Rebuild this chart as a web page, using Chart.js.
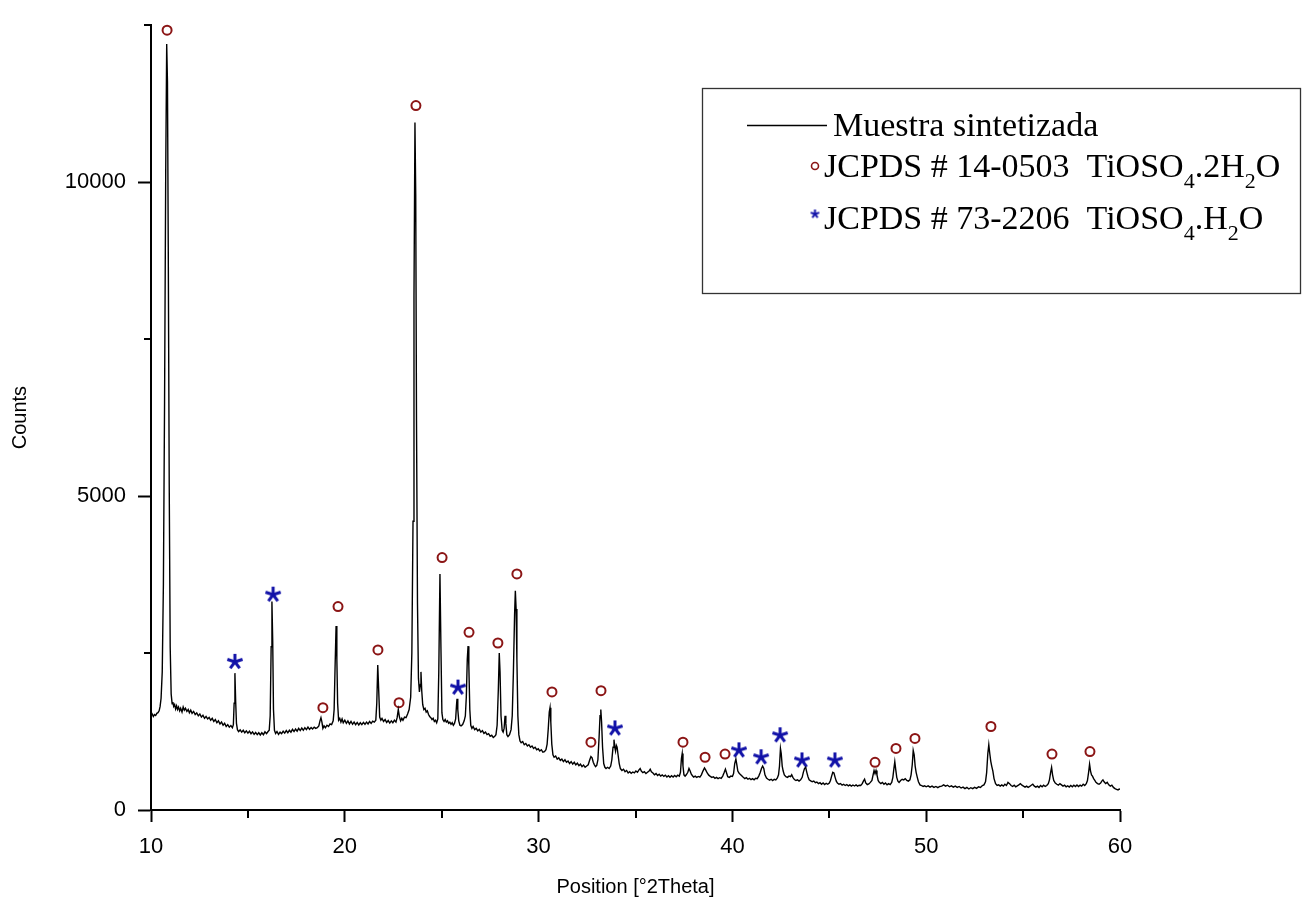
<!DOCTYPE html>
<html>
<head>
<meta charset="utf-8">
<script src="https://cdn.jsdelivr.net/npm/chart.js@4.4.1/dist/chart.umd.min.js"></script>
<style>
  body { margin: 0; background: #fff; }
  #wrap { width: 1302px; height: 897px; }
</style>
</head>
<body>
<div id="wrap"><canvas id="xrd"></canvas></div>
<script>
// XRD pattern - muestra sintetizada

const xTicks = [10, 20, 30, 40, 50, 60];
const xMinorTicks = [15, 25, 35, 45, 55];
const yTicks = [0, 5000, 10000];
const yMinorTicks = [2500, 7500, 12500];

// [2Theta, counts]
const pattern = [
  [10.00,1500],[10.06,1530],[10.12,1490],[10.18,1520],[10.24,1505],[10.30,1540],[10.36,1550],[10.42,1580],[10.47,1650],[10.52,1780],
  [10.58,2200],[10.64,3600],[10.70,6500],[10.76,10200],[10.81,12200],[10.85,11600],[10.89,9000],[10.94,5200],[10.99,2600],[11.04,1850],
  [11.09,1690],[11.13,1720],[11.17,1650],[11.22,1680],[11.27,1610],[11.32,1660],[11.37,1600],[11.42,1640],[11.48,1580],[11.53,1620],
  [11.60,1560],[11.66,1640],[11.72,1590],[11.78,1620],[11.85,1570],[11.92,1600],[11.98,1550],[12.05,1590],[12.12,1540],[12.20,1570],
  [12.28,1520],[12.36,1545],[12.44,1500],[12.52,1530],[12.60,1480],[12.68,1510],[12.76,1460],[12.84,1490],[12.92,1450],[13.00,1475],
  [13.08,1430],[13.16,1460],[13.24,1410],[13.32,1440],[13.40,1390],[13.48,1420],[13.56,1370],[13.64,1400],[13.72,1350],[13.80,1380],
  [13.88,1330],[13.96,1360],[14.04,1320],[14.12,1345],[14.20,1310],[14.25,1360],[14.29,1700],[14.33,2180],[14.37,1720],[14.41,1380],
  [14.46,1280],[14.52,1250],[14.60,1275],[14.68,1240],[14.76,1270],[14.84,1230],[14.92,1260],[15.00,1225],[15.08,1255],[15.16,1215],
  [15.24,1245],[15.32,1205],[15.40,1235],[15.48,1200],[15.56,1230],[15.64,1195],[15.72,1230],[15.80,1200],[15.88,1245],[15.96,1215],
  [16.04,1250],[16.10,1270],[16.15,1500],[16.20,2600],[16.24,3320],[16.28,2700],[16.32,1600],[16.37,1270],[16.43,1220],[16.50,1250],
  [16.58,1205],[16.66,1240],[16.74,1215],[16.82,1255],[16.90,1225],[16.98,1265],[17.06,1230],[17.14,1270],[17.22,1240],[17.30,1285],
  [17.38,1250],[17.46,1290],[17.54,1255],[17.62,1300],[17.70,1265],[17.78,1305],[17.86,1270],[17.94,1310],[18.02,1280],[18.10,1320],
  [18.18,1285],[18.26,1315],[18.34,1290],[18.42,1320],[18.50,1300],[18.58,1310],[18.66,1340],[18.72,1420],[18.77,1470],[18.82,1400],
  [18.87,1300],[18.93,1340],[19.00,1310],[19.08,1350],[19.16,1330],[19.24,1370],[19.32,1360],[19.40,1420],[19.45,1600],[19.50,2300],
  [19.55,2930],[19.59,2400],[19.63,1700],[19.68,1430],[19.74,1460],[19.80,1400],[19.86,1450],[19.92,1390],[20.00,1430],[20.08,1380],
  [20.16,1420],[20.24,1370],[20.32,1410],[20.40,1365],[20.48,1400],[20.56,1360],[20.64,1395],[20.72,1355],[20.80,1390],[20.88,1360],
  [20.96,1395],[21.04,1365],[21.12,1400],[21.20,1370],[21.28,1410],[21.36,1380],[21.44,1415],[21.52,1400],[21.60,1430],[21.65,1700],
  [21.70,2310],[21.75,1900],[21.80,1480],[21.86,1430],[21.92,1460],[22.00,1410],[22.08,1440],[22.16,1395],[22.24,1425],[22.32,1385],
  [22.40,1420],[22.48,1390],[22.56,1430],[22.64,1400],[22.70,1470],[22.76,1600],[22.82,1480],[22.88,1420],[22.94,1460],[23.00,1430],
  [23.08,1480],[23.16,1470],[23.24,1530],[23.32,1600],[23.40,1800],[23.46,2500],[23.52,4600],[23.57,8200],[23.62,10950],[23.66,9800],
  [23.70,6200],[23.75,3300],[23.80,2100],[23.85,1880],[23.90,2000],[23.93,2200],[23.97,1900],[24.02,1680],[24.08,1600],[24.14,1620],
  [24.20,1560],[24.26,1580],[24.32,1520],[24.38,1490],[24.44,1470],[24.50,1440],[24.56,1460],[24.62,1410],[24.68,1430],[24.74,1390],
  [24.80,1450],[24.85,2200],[24.91,3760],[24.96,2600],[25.01,1550],[25.06,1440],[25.12,1410],[25.18,1440],[25.24,1400],[25.30,1420],
  [25.36,1380],[25.42,1400],[25.48,1365],[25.54,1390],[25.60,1350],[25.66,1380],[25.72,1450],[25.76,1650],[25.79,1770],[25.83,1600],
  [25.88,1420],[25.94,1350],[26.00,1340],[26.08,1360],[26.16,1420],[26.22,1500],[26.27,1800],[26.32,2400],[26.36,2610],[26.40,2300],
  [26.45,1600],[26.50,1350],[26.56,1300],[26.62,1330],[26.70,1280],[26.78,1300],[26.86,1260],[26.94,1285],[27.02,1240],[27.10,1265],
  [27.18,1220],[27.26,1240],[27.34,1200],[27.42,1215],[27.50,1175],[27.58,1190],[27.66,1155],[27.74,1175],[27.80,1200],[27.86,1350],
  [27.92,1900],[27.97,2500],[28.01,2200],[28.06,1500],[28.12,1270],[28.17,1240],[28.22,1300],[28.27,1500],[28.31,1380],[28.36,1200],
  [28.42,1170],[28.50,1200],[28.58,1280],[28.64,1500],[28.70,2200],[28.76,3100],[28.80,3490],[28.84,3200],[28.88,2400],[28.93,1500],
  [28.98,1200],[29.04,1100],[29.10,1070],[29.18,1090],[29.26,1040],[29.34,1060],[29.42,1020],[29.50,1040],[29.58,1000],[29.66,1020],
  [29.74,980],[29.82,1000],[29.90,960],[29.98,975],[30.06,940],[30.14,960],[30.22,920],[30.30,930],[30.38,960],[30.44,1050],
  [30.50,1300],[30.55,1560],[30.59,1630],[30.63,1400],[30.68,1050],[30.74,880],[30.80,840],[30.88,860],[30.96,810],[31.04,830],
  [31.12,790],[31.20,810],[31.28,770],[31.36,800],[31.44,760],[31.52,780],[31.60,740],[31.68,770],[31.76,730],[31.84,760],
  [31.92,720],[32.00,745],[32.08,705],[32.16,730],[32.24,690],[32.32,715],[32.40,680],[32.48,700],[32.56,720],[32.64,800],
  [32.70,850],[32.76,830],[32.82,760],[32.88,720],[32.94,690],[33.00,710],[33.06,800],[33.12,1150],[33.17,1500],[33.21,1600],
  [33.25,1400],[33.30,1000],[33.36,740],[33.42,680],[33.48,660],[33.56,680],[33.64,660],[33.72,700],[33.78,800],[33.84,1000],
  [33.89,1120],[33.93,1000],[33.97,940],[34.01,1030],[34.05,1000],[34.10,880],[34.16,740],[34.22,660],[34.30,630],[34.38,650],
  [34.46,610],[34.54,630],[34.62,590],[34.70,610],[34.78,585],[34.86,605],[34.94,590],[35.02,620],[35.10,600],[35.18,640],
  [35.24,660],[35.30,620],[35.38,595],[35.46,610],[35.54,580],[35.62,600],[35.70,620],[35.76,650],[35.82,610],[35.90,590],
  [35.98,560],[36.06,580],[36.14,550],[36.22,570],[36.30,540],[36.38,560],[36.46,535],[36.54,555],[36.62,525],[36.70,545],
  [36.78,520],[36.86,545],[36.94,525],[37.02,550],[37.10,530],[37.18,555],[37.26,540],[37.32,600],[37.37,820],[37.41,900],
  [37.45,700],[37.50,560],[37.56,540],[37.62,560],[37.70,600],[37.76,660],[37.82,620],[37.88,570],[37.94,545],[38.00,525],
  [38.08,540],[38.16,520],[38.24,535],[38.32,525],[38.40,560],[38.48,620],[38.56,670],[38.62,640],[38.70,590],[38.78,555],
  [38.86,535],[38.94,520],[39.02,530],[39.10,505],[39.18,520],[39.26,500],[39.34,515],[39.42,505],[39.50,540],[39.58,600],
  [39.64,650],[39.70,590],[39.76,530],[39.84,520],[39.92,540],[40.00,535],[40.06,580],[40.12,740],[40.18,810],[40.23,720],
  [40.28,620],[40.34,590],[40.40,570],[40.48,545],[40.56,520],[40.64,500],[40.72,515],[40.80,490],[40.88,505],[40.96,485],
  [41.04,500],[41.12,480],[41.20,505],[41.28,500],[41.36,540],[41.44,600],[41.50,660],[41.56,700],[41.62,660],[41.68,560],
  [41.76,510],[41.84,490],[41.92,475],[42.00,490],[42.08,470],[42.16,490],[42.24,480],[42.32,510],[42.38,560],[42.43,700],
  [42.48,980],[42.52,900],[42.57,700],[42.62,620],[42.68,560],[42.76,530],[42.84,520],[42.92,540],[43.00,530],[43.06,560],
  [43.12,520],[43.20,485],[43.28,470],[43.36,480],[43.44,460],[43.52,480],[43.60,520],[43.66,600],[43.72,660],[43.78,680],
  [43.84,600],[43.90,530],[43.96,480],[44.04,465],[44.12,450],[44.20,460],[44.28,435],[44.36,445],[44.44,420],[44.52,435],
  [44.60,410],[44.68,430],[44.76,405],[44.84,425],[44.92,410],[45.00,430],[45.06,470],[45.12,540],[45.18,600],[45.24,590],
  [45.30,520],[45.36,460],[45.42,430],[45.50,410],[45.58,420],[45.66,395],[45.74,410],[45.82,390],[45.90,405],[45.98,385],
  [46.06,400],[46.14,380],[46.22,398],[46.30,382],[46.38,400],[46.46,380],[46.54,395],[46.62,390],[46.70,420],[46.76,460],
  [46.82,490],[46.88,430],[46.96,405],[47.04,415],[47.12,440],[47.20,470],[47.26,560],[47.31,630],[47.36,580],[47.41,630],
  [47.46,560],[47.52,470],[47.58,440],[47.66,420],[47.74,440],[47.82,410],[47.90,430],[47.98,400],[48.06,420],[48.14,405],
  [48.22,440],[48.28,520],[48.33,650],[48.38,770],[48.43,640],[48.48,520],[48.54,460],[48.60,440],[48.68,470],[48.76,490],
  [48.84,480],[48.92,500],[49.00,470],[49.08,460],[49.16,480],[49.22,560],[49.28,720],[49.33,950],[49.38,880],[49.43,700],
  [49.48,600],[49.54,520],[49.60,450],[49.68,400],[49.76,390],[49.84,375],[49.92,385],[50.00,370],[50.10,385],[50.20,365],
  [50.30,380],[50.40,360],[50.50,375],[50.60,355],[50.70,375],[50.80,380],[50.90,400],[51.00,380],[51.10,395],[51.20,370],
  [51.30,385],[51.40,365],[51.50,380],[51.60,360],[51.70,375],[51.80,350],[51.90,365],[52.00,340],[52.10,360],[52.20,335],
  [52.30,355],[52.40,340],[52.50,360],[52.60,345],[52.70,370],[52.80,360],[52.90,390],[52.98,400],[53.06,450],[53.12,600],
  [53.18,900],[53.23,1040],[53.28,900],[53.33,780],[53.38,700],[53.44,620],[53.50,500],[53.58,420],[53.66,390],[53.74,400],
  [53.82,380],[53.90,400],[53.98,380],[54.06,410],[54.14,390],[54.22,440],[54.30,420],[54.38,390],[54.46,375],[54.54,395],
  [54.62,370],[54.70,385],[54.78,400],[54.86,420],[54.94,395],[55.02,380],[55.10,365],[55.18,380],[55.26,360],[55.34,375],
  [55.42,395],[55.50,410],[55.58,380],[55.66,365],[55.74,380],[55.82,360],[55.90,390],[55.98,370],[56.06,395],[56.14,375],
  [56.22,390],[56.30,420],[56.36,480],[56.42,600],[56.47,680],[56.52,560],[56.58,470],[56.66,430],[56.74,410],[56.82,395],
  [56.90,420],[56.98,400],[57.06,380],[57.14,395],[57.22,370],[57.30,385],[57.38,365],[57.46,390],[57.54,370],[57.62,395],
  [57.70,375],[57.78,400],[57.86,375],[57.94,395],[58.02,380],[58.10,410],[58.18,390],[58.26,420],[58.32,470],[58.38,600],
  [58.43,730],[58.48,620],[58.53,560],[58.58,540],[58.64,500],[58.70,470],[58.76,440],[58.84,420],[58.92,410],[59.00,430],
  [59.06,460],[59.12,480],[59.18,450],[59.26,420],[59.34,440],[59.42,400],[59.50,380],[59.58,395],[59.66,360],[59.74,340],
  [59.82,330],[59.90,320],[59.96,335],[60.00,330]
];

// reflection marks, TiOSO4.2H2O (JCPDS 14-0503)
const dihydrateMarks = [
  [10.83,12420],[18.87,1630],[19.65,3240],[21.71,2550],[22.80,1710],[23.67,11220],[25.02,4020],[26.41,2830],
  [27.90,2660],[28.88,3760],[30.69,1880],[32.70,1080],[33.22,1900],[37.45,1080],[38.59,840],[39.62,890],
  [47.36,760],[48.44,980],[49.42,1140],[53.34,1330],[56.49,890],[58.45,930]
];
// reflection marks, TiOSO4.H2O (JCPDS 73-2206)
const monohydrateMarks = [
  [14.33,2360],[16.30,3430],[25.84,1950],[33.94,1300],[40.34,950],[41.48,840],[42.46,1190],[43.59,790],[45.29,790]
];

const toXY = (arr) => arr.map((p) => ({ x: p[0], y: p[1] }));

function asterisco(size, lw, color) {
  const c = document.createElement("canvas");
  c.width = size;
  c.height = size;
  const g = c.getContext("2d");
  g.strokeStyle = color;
  g.lineWidth = lw;
  const r = size / 2 - 1;
  const cx = size / 2;
  const cy = size / 2;
  for (let k = 0; k < 5; k++) {
    const a = -Math.PI / 2 + (k * 2 * Math.PI) / 5;
    g.beginPath();
    g.moveTo(cx, cy);
    g.lineTo(cx + r * Math.cos(a), cy + r * Math.sin(a));
    g.stroke();
  }
  return c;
}

const AZUL = "#1212a8";
const ROJO = "#8b1515";
const estrella = asterisco(18, 3, AZUL);
const estrellaChica = asterisco(11, 2, AZUL);

// minor ticks (shorter than the labelled ones)
const ticksMenores = {
  id: "ticksMenores",
  afterDraw(chart) {
    const { ctx, scales } = chart;
    const xs = scales.x;
    const ys = scales.y;
    ctx.save();
    ctx.strokeStyle = "#000";
    ctx.lineWidth = 2;
    xMinorTicks.forEach((v) => {
      const px = Math.round(xs.getPixelForValue(v));
      ctx.beginPath();
      ctx.moveTo(px, ys.bottom);
      ctx.lineTo(px, ys.bottom + 8);
      ctx.stroke();
    });
    yMinorTicks.forEach((v) => {
      const py = Math.round(ys.getPixelForValue(v));
      ctx.beginPath();
      ctx.moveTo(xs.left - 7, py);
      ctx.lineTo(xs.left, py);
      ctx.stroke();
    });
    ctx.restore();
  },
};

// legend box with subscripts
function escribir(ctx, partes, x, y) {
  let cx = x;
  partes.forEach(([txt, sub]) => {
    ctx.font = sub ? '22px "Liberation Serif"' : '34px "Liberation Serif"';
    ctx.fillText(txt, cx, sub ? y + 11 : y);
    cx += ctx.measureText(txt).width;
  });
}

const leyenda = {
  id: "leyenda",
  afterDraw(chart) {
    const ctx = chart.ctx;
    ctx.save();
    ctx.strokeStyle = "#333";
    ctx.lineWidth = 1.3;
    ctx.strokeRect(702.5, 88.5, 598, 205);

    ctx.fillStyle = "#000";
    ctx.textBaseline = "alphabetic";
    ctx.strokeStyle = "#000";
    ctx.beginPath();
    ctx.moveTo(747, 125.5);
    ctx.lineTo(827, 125.5);
    ctx.stroke();
    escribir(ctx, [["Muestra sintetizada"]], 833, 136);

    ctx.strokeStyle = ROJO;
    ctx.lineWidth = 1.6;
    ctx.beginPath();
    ctx.arc(815, 166, 3.5, 0, Math.PI * 2);
    ctx.stroke();
    escribir(ctx, [["JCPDS # 14-0503  TiOSO"], ["4", true], [".2H"], ["2", true], ["O"]], 824, 177);

    ctx.drawImage(estrellaChica, 815 - 5.5, 214 - 5.5);
    escribir(ctx, [["JCPDS # 73-2206  TiOSO"], ["4", true], [".H"], ["2", true], ["O"]], 824, 229);
    ctx.restore();
  },
};

new Chart(document.getElementById("xrd"), {
  type: "line",
  data: {
    datasets: [
      {
        label: "Muestra sintetizada",
        data: toXY(pattern),
        borderColor: "#000",
        borderWidth: 1.4,
        pointRadius: 0,
        tension: 0,
      },
      {
        label: "JCPDS # 14-0503",
        type: "scatter",
        data: toXY(dihydrateMarks),
        pointStyle: "circle",
        pointRadius: 4.5,
        borderWidth: 2,
        borderColor: ROJO,
        backgroundColor: "rgba(0,0,0,0)",
        showLine: false,
        clip: false,
      },
      {
        label: "JCPDS # 73-2206",
        type: "scatter",
        data: toXY(monohydrateMarks),
        pointStyle: estrella,
        pointRadius: 9,
        showLine: false,
        clip: false,
      },
    ],
  },
  plugins: [ticksMenores, leyenda],
  options: {
    responsive: true,
    maintainAspectRatio: false,
    animation: false,
    layout: { padding: { top: 20, right: 182, left: 0, bottom: 0 } },
    plugins: {
      legend: { display: false },
      tooltip: { enabled: false },
    },
    scales: {
      x: {
        type: "linear",
        min: 10,
        max: 60,
        afterBuildTicks: (s) => { s.ticks = xTicks.map((v) => ({ value: v })); },
        afterFit: (s) => { s.height = 87; },
        ticks: {
          font: { family: "Liberation Sans", size: 22 },
          color: "#000",
          padding: 12,
          maxRotation: 0,
          callback: (v) => String(v),
        },
        grid: { drawOnChartArea: false, tickLength: 12, tickWidth: 2, tickColor: "#000" },
        border: { display: true, color: "#000", width: 2 },
        title: {
          display: true,
          text: "Position [°2Theta]",
          font: { family: "Liberation Sans", size: 20, lineHeight: 1 },
          color: "#000",
          padding: { top: 0, bottom: 0 },
        },
      },
      y: {
        min: 0,
        max: 12500,
        afterBuildTicks: (s) => { s.ticks = yTicks.map((v) => ({ value: v })); },
        afterFit: (s) => { s.width = 151; },
        ticks: {
          font: { family: "Liberation Sans", size: 22 },
          color: "#000",
          padding: 12,
          callback: (v) => String(v),
        },
        grid: { drawOnChartArea: false, tickLength: 13, tickWidth: 2, tickColor: "#000" },
        border: { display: true, color: "#000", width: 2 },
        title: {
          display: true,
          text: "Counts",
          font: { family: "Liberation Sans", size: 20, lineHeight: 1 },
          color: "#000",
          padding: { top: 10, bottom: 0 },
        },
      },
    },
  },
});
</script>
</body>
</html>
